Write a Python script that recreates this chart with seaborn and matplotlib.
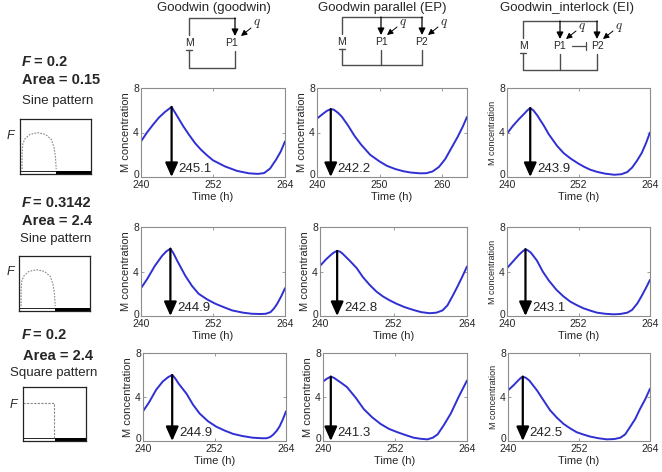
import numpy as np
import matplotlib
matplotlib.use("Agg")
import matplotlib.pyplot as plt
import matplotlib.transforms as mtransforms
import seaborn as sns
from matplotlib.patches import Rectangle

# --- data ---------------------------------------------------------------
models = ["Goodwin (goodwin)", "Goodwin parallel (EP)", "Goodwin_interlock (EI)"]

t_r1_goodwin = [240, 241, 242, 243, 244, 245.1, 246, 247, 248, 249, 250, 251, 252, 254, 256, 258, 259.5, 260.5, 261.5, 262.5, 263.3, 264]
m_r1_goodwin = [3.2, 4.0, 4.7, 5.35, 5.85, 6.3, 5.5, 4.6, 3.8, 3.05, 2.45, 1.95, 1.5, 0.95, 0.55, 0.33, 0.28, 0.35, 0.75, 1.55, 2.3, 3.2]
t_r1_parallel = [240, 241, 241.6, 242.2, 242.7, 243.4, 244, 245, 246, 247, 248.5, 250, 251.2, 252.5, 253.8, 255, 256.5, 257.5, 258.5, 259.5, 260.5, 261.5, 262.5, 263.3, 264]
m_r1_parallel = [5.25, 5.7, 5.95, 6.1, 6.05, 5.75, 5.4, 4.6, 3.7, 2.95, 2.0, 1.4, 1.0, 0.72, 0.52, 0.4, 0.33, 0.34, 0.5, 0.9, 1.6, 2.6, 3.6, 4.5, 5.4]
t_r1_interlock = [240, 241, 242, 243, 243.4, 243.9, 244.4, 245, 246.2, 247, 248.4, 249.5, 250.7, 252, 253, 254, 255.2, 256.5, 258, 259.2, 260.2, 261, 261.8, 262.6, 263.3, 264]
m_r1_interlock = [3.9, 4.6, 5.2, 5.75, 5.98, 6.2, 6.0, 5.6, 4.6, 3.85, 2.8, 2.15, 1.65, 1.2, 0.9, 0.65, 0.45, 0.3, 0.2, 0.25, 0.45, 0.85, 1.45, 2.15, 3.0, 4.0]

t_r2_goodwin = [240, 241, 242.3, 243.5, 244.2, 244.9, 245.4, 246, 247.4, 248.5, 249.6, 251, 252.4, 254, 255.2, 257, 258.5, 260, 260.8, 261.6, 262.2, 262.7, 263.4, 264]
m_r2_goodwin = [2.5, 3.3, 4.5, 5.4, 5.8, 6.05, 5.65, 5.0, 3.6, 2.7, 2.0, 1.5, 1.1, 0.75, 0.5, 0.3, 0.2, 0.18, 0.2, 0.35, 0.7, 1.1, 1.8, 2.5]
t_r2_parallel = [240, 241, 242, 242.4, 242.8, 243.2, 243.6, 244.8, 246, 247, 248.1, 249.2, 250.3, 251.4, 252.5, 253.8, 255.2, 256.5, 257.9, 259, 260, 260.8, 261.6, 262.4, 263.2, 264]
m_r2_parallel = [4.5, 5.1, 5.6, 5.75, 5.85, 5.8, 5.65, 5.0, 4.3, 3.5, 2.8, 2.2, 1.75, 1.4, 1.1, 0.8, 0.55, 0.35, 0.25, 0.3, 0.5, 0.95, 1.75, 2.6, 3.5, 4.45]
t_r2_interlock = [240, 241, 242, 242.6, 243.1, 243.5, 244, 245, 246, 247, 248.3, 249.5, 250.6, 251.7, 252.8, 254, 255.1, 256.5, 257.9, 259, 260.2, 261, 261.9, 262.6, 263.3, 264]
m_r2_interlock = [4.3, 4.9, 5.5, 5.8, 6.0, 5.9, 5.7, 5.0, 4.0, 3.2, 2.35, 1.75, 1.3, 0.98, 0.7, 0.48, 0.3, 0.2, 0.15, 0.18, 0.3, 0.55, 1.15, 1.8, 2.5, 3.25]

t_r3_goodwin = [240, 241, 242.2, 243.3, 244.2, 244.9, 245.4, 246, 247.3, 248.4, 249.5, 250.9, 252.3, 253.7, 255.1, 256.7, 258.4, 260, 260.7, 261.3, 261.8, 262.4, 262.9, 263.5, 264]
m_r3_goodwin = [2.7, 3.5, 4.65, 5.4, 5.8, 6.0, 5.7, 5.2, 4.3, 3.3, 2.5, 1.8, 1.3, 0.95, 0.65, 0.45, 0.3, 0.25, 0.25, 0.35, 0.55, 0.9, 1.3, 2.0, 2.7]
t_r3_parallel = [240, 240.6, 241.3, 241.8, 242.2, 243, 244, 245.5, 246.8, 248.2, 249.6, 251, 252.4, 253.7, 255.1, 256.3, 257.4, 258.3, 259.1, 260.2, 261.3, 262.6, 264]
m_r3_parallel = [5.4, 5.65, 5.85, 5.75, 5.6, 5.3, 4.9, 3.9, 2.9, 2.15, 1.55, 1.1, 0.8, 0.55, 0.3, 0.2, 0.15, 0.3, 0.6, 1.5, 2.5, 4.0, 5.5]
t_r3_interlock = [240, 241, 241.8, 242.2, 242.5, 243, 243.6, 244.9, 246, 247.1, 248.3, 249.4, 250.5, 251.6, 252.8, 253.9, 255.3, 256.7, 258, 259, 259.8, 260.6, 261.5, 262.3, 263.2, 264]
m_r3_interlock = [4.6, 5.1, 5.55, 5.75, 5.85, 5.75, 5.5, 4.6, 3.7, 2.8, 2.1, 1.55, 1.15, 0.8, 0.58, 0.4, 0.25, 0.15, 0.18, 0.3, 0.6, 1.25, 2.0, 2.9, 3.8, 4.75]

peaks_goodwin = [245.1, 244.9, 244.9]
peaks_parallel = [242.2, 242.8, 241.3]
peaks_interlock = [243.9, 243.1, 242.5]

xticks_default = [240, 252, 264]
xticks_r1_parallel = [240, 250, 260]
yticks = [0, 4, 8]

row_F = ["0.2", "0.3142", "0.2"]
row_area = ["Area = 0.15", "Area = 2.4", "Area = 2.4"]
row_pattern = ["Sine pattern", "Sine pattern", "Square pattern"]

# pattern icons (icon-local coordinates)
dome_x = [0.03, 0.03, 0.04, 0.07, 0.14, 0.25, 0.36, 0.44, 0.48, 0.50, 0.51]
dome_y = [0.09, 0.40, 0.55, 0.64, 0.72, 0.75, 0.72, 0.63, 0.48, 0.30, 0.09]
square_x = [0.0, 0.49, 0.49]
square_y = [0.70, 0.70, 0.06]

# --- layout (pixels) ---------------------------------------------------
W, H = 662, 472
BLUE = "#2f2fd2"
GRAY = "#8c8c8c"

sns.set_style("white")
plt.rcParams["font.family"] = ["Liberation Sans", "DejaVu Sans"]
plt.rcParams["mathtext.fontset"] = "cm"

fig = plt.figure(figsize=(W / 100, H / 100), dpi=100)


def px_axes(l, t, r, b):
    return fig.add_axes([l / W, 1 - b / H, (r - l) / W, (b - t) / H])


rows_y = [(88, 177), (227, 316), (353, 441)]
cols_x = [[(141, 285), (317, 467), (507, 650)],
          [(141, 285), (320, 467), (507, 650)],
          [(143, 286), (323, 467), (508, 650)]]

curves = [
    [(t_r1_goodwin, m_r1_goodwin), (t_r1_parallel, m_r1_parallel), (t_r1_interlock, m_r1_interlock)],
    [(t_r2_goodwin, m_r2_goodwin), (t_r2_parallel, m_r2_parallel), (t_r2_interlock, m_r2_interlock)],
    [(t_r3_goodwin, m_r3_goodwin), (t_r3_parallel, m_r3_parallel), (t_r3_interlock, m_r3_interlock)],
]
peaks = [peaks_goodwin, peaks_parallel, peaks_interlock]

# nudge the "0" y tick label up so it sits just above the x tick labels
lift = mtransforms.ScaledTranslation(0, 2.5 / 100, fig.dpi_scale_trans)

for r in range(3):
    for c in range(3):
        l, rr = cols_x[r][c]
        t, b = rows_y[r]
        ax = px_axes(l, t, rr, b)
        tt, mm = curves[r][c]
        sns.lineplot(x=tt, y=mm, ax=ax, color=BLUE, lw=1.4, estimator=None)
        ax.set_xlim(240, 264)
        ax.set_ylim(0, 8)
        ax.set_yticks(yticks)
        ax.set_xticks(xticks_r1_parallel if (r == 0 and c == 1) else xticks_default)
        ax.tick_params(direction="in", length=2.5, width=0.6, color=GRAY,
                       top=True, right=True, labeltop=False, labelright=False,
                       labelsize=7.5, bottom=True, left=True)
        ax.tick_params(axis="x", pad=2.5)
        ax.tick_params(axis="y", pad=1.5)
        ylab0 = ax.get_yticklabels()[0]
        ylab0.set_transform(ylab0.get_transform() + lift)
        for s in ax.spines.values():
            s.set_color(GRAY)
            s.set_linewidth(0.8)
        ax.set_xlabel("Time (h)", fontsize=8, labelpad=1)
        ax.set_ylabel("M concentration", fontsize=8 if c < 2 else 6.5, labelpad=1.5)

        pk = peaks[c][r]
        top = np.interp(pk, tt, mm)
        ax.annotate("", xy=(pk, 0), xytext=(pk, top),
                    arrowprops=dict(arrowstyle="-|>,head_length=0.85,head_width=0.38",
                                    mutation_scale=10, lw=1.6, color="black",
                                    shrinkA=0, shrinkB=0))
        ax.annotate(f"{pk:.1f}", xy=(pk, 0), xytext=(5, 1.5), textcoords="offset points",
                    ha="left", va="bottom", fontsize=9.5)

# --- overlay for text, network diagrams -------------------------------
ov = fig.add_axes([0, 0, 1, 1], zorder=-1)
ov.set_xlim(0, W)
ov.set_ylim(H, 0)
ov.axis("off")

title_x = [214, 382, 567]
for x, name in zip(title_x, models):
    ov.text(x, 8, name, ha="center", va="center", fontsize=9.5)

LINE = "#4d4d4d"


def draw_network(xm, xps, y_top, y_lab, y_bot, interlock=False):
    ov.plot([xm, xm, xps[-1]], [y_lab - 8, y_top, y_top], color=LINE, lw=1)
    ov.text(xm, y_lab, "M", ha="center", va="center", fontsize=7.5)
    ov.plot([xm - 3, xm + 3], [y_lab + 7, y_lab + 7], color=LINE, lw=1)
    ov.plot([xm, xm, xps[-1]], [y_lab + 7, y_bot, y_bot], color=LINE, lw=1)
    for i, xp in enumerate(xps):
        ov.annotate("", xy=(xp, y_lab - 7), xytext=(xp, y_top),
                    arrowprops=dict(arrowstyle="-|>,head_length=0.5,head_width=0.25",
                                    mutation_scale=8, lw=0.9, color="black",
                                    shrinkA=0, shrinkB=0))
        ov.annotate("", xy=(xp + 6, y_lab - 7), xytext=(xp + 16, y_lab - 15),
                    arrowprops=dict(arrowstyle="-|>,head_length=0.5,head_width=0.25",
                                    mutation_scale=7, lw=0.7, color="black",
                                    shrinkA=0, shrinkB=0))
        ov.text(xp + 22, y_lab - 19, "$q$", ha="center", va="center", fontsize=9.5)
        ov.text(xp - (3 if len(xps) == 1 else 0), y_lab, f"P{i + 1}",
                ha="center", va="center", fontsize=7.5)
        ov.plot([xp, xp], [y_lab + 8, y_bot], color=LINE, lw=1)
    if interlock:
        ov.plot([xps[0] + 12, xps[1] - 11], [y_lab, y_lab], color=LINE, lw=0.9)
        ov.plot([xps[1] - 11, xps[1] - 11], [y_lab - 4, y_lab + 4], color=LINE, lw=0.9)


draw_network(189, [235], 18, 43, 68)
draw_network(342, [381, 422], 17, 42, 65)
draw_network(523, [560, 597], 21, 46, 70, interlock=True)

# --- left column: parameters and input pattern icons ------------------
text_pos = [
    dict(F=(22, 62), eq=34, area=(22, 80), pat=(22, 101)),
    dict(F=(22, 203), eq=33, area=(22, 221), pat=(20, 239)),
    dict(F=(22, 335), eq=33, area=(23, 356), pat=(10, 373)),
]
for r in range(3):
    p = text_pos[r]
    ov.text(p["F"][0], p["F"][1], "F", fontsize=10.5, fontweight="bold",
            fontstyle="italic", ha="left", va="center")
    ov.text(p["eq"], p["F"][1], "= " + row_F[r], fontsize=10.5, fontweight="bold",
            ha="left", va="center")
    ov.text(p["area"][0], p["area"][1], row_area[r], fontsize=10.5,
            fontweight="bold", ha="left", va="center")
    ov.text(p["pat"][0], p["pat"][1], row_pattern[r], fontsize=9.5,
            ha="left", va="center")

icon_box = [(20, 119, 91, 174), (19, 256, 90, 311), (23, 387, 86, 441)]
F_pos = [(10, 136), (10, 272), (13, 405)]
for r in range(3):
    l, t, rr, b = icon_box[r]
    ia = px_axes(l, t, rr, b)
    ia.set_xlim(0, 1)
    ia.set_ylim(0, 1)
    ia.set_xticks([])
    ia.set_yticks([])
    for s in ia.spines.values():
        s.set_color("#222222")
        s.set_linewidth(0.9)
    if r < 2:
        ia.plot(dome_x, dome_y, color="#888888", lw=0.8, ls=(0, (1.5, 1.2)))
    else:
        ia.plot(square_x, square_y, color="#888888", lw=0.8, ls=(0, (2, 1.2)))
    ia.add_patch(Rectangle((0, 0), 0.5, 0.055, facecolor="white",
                           edgecolor="#222222", lw=0.7))
    ia.add_patch(Rectangle((0.5, 0), 0.5, 0.055, facecolor="black",
                           edgecolor="black", lw=0.7))
    ov.text(F_pos[r][0], F_pos[r][1], "F", fontsize=9, fontstyle="italic",
            ha="center", va="center")

fig.savefig("out.png", dpi=100, facecolor="white")
